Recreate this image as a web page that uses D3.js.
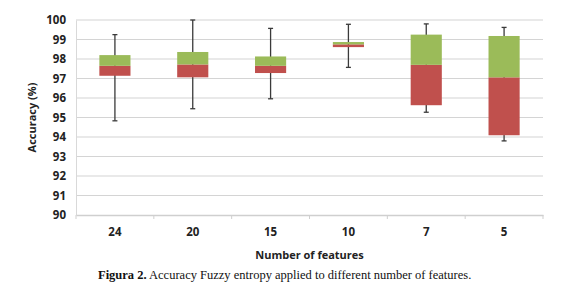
<!DOCTYPE html>
<html>
<head>
<meta charset="utf-8">
<script src="https://cdn.jsdelivr.net/npm/d3@7"></script>
<style>
  body { margin: 0; background: #fff; }
  svg text { font-family: "Open Sans", "Noto Sans", sans-serif; }
</style>
</head>
<body>
<svg id="chart" width="580" height="296"></svg>
<script>
// number of features (categories)
const features = ['24', '20', '15', '10', '7', '5']
// box plot values
const whiskerLow = [94.83, 95.45, 95.96, 97.57, 95.27, 93.80]
const q1 = [97.14, 97.06, 97.28, 98.61, 95.63, 94.09]
const median = [97.65, 97.72, 97.65, 98.75, 97.70, 97.06]
const q3 = [98.20, 98.36, 98.13, 98.87, 99.25, 99.18]
const whiskerHigh = [99.25, 100, 99.57, 99.78, 99.80, 99.62]
const yTicks = [90, 91, 92, 93, 94, 95, 96, 97, 98, 99, 100]

const margin = { left: 76, right: 37, top: 20, bottom: 81 }
const width = 580 - margin.left - margin.right
const height = 296 - margin.top - margin.bottom

const svg = d3.select('#chart')
const g = svg.append('g')
    .attr('transform', 'translate(' + margin.left + ',' + margin.top + ')')

const x = d3.scaleBand()
    .domain(features)
    .range([0, width])

const y = d3.scaleLinear()
    .domain([90, 100])
    .range([height, 0])

// gridlines
g.append('g')
    .selectAll('line')
    .data(yTicks.slice(1))
    .enter().append('line')
    .attr('x1', 0)
    .attr('x2', width)
    .attr('y1', d => y(d))
    .attr('y2', d => y(d))
    .attr('stroke', '#d4d4d4')
    .attr('stroke-width', 1.2)

// y axis
const yAxis = g.append('g')
    .call(d3.axisLeft(y).tickValues(yTicks).tickSize(0).tickPadding(10))
yAxis.select('.domain').attr('stroke', '#d9d9d9')
yAxis.selectAll('text')
    .attr('font-size', 11.5)
    .attr('font-weight', 'bold')
    .attr('fill', '#222')

// x axis
const xAxis = g.append('g')
    .attr('transform', 'translate(0,' + height + ')')
    .call(d3.axisBottom(x).tickSize(0).tickPadding(13))
xAxis.select('.domain').attr('stroke', '#cfcfcf').attr('stroke-width', 1.5)
xAxis.selectAll('text')
    .attr('font-size', 11.5)
    .attr('font-weight', 'bold')
    .attr('fill', '#222')

// tick marks between categories
const bounds = features.map(f => x(f)).concat([width])
xAxis.append('g')
    .selectAll('line')
    .data(bounds)
    .enter().append('line')
    .attr('x1', d => d)
    .attr('x2', d => d)
    .attr('y1', 0)
    .attr('y2', 4)
    .attr('stroke', '#cfcfcf')

const boxW = x.bandwidth() * 0.4
const cx = i => x(features[i]) + x.bandwidth() / 2
const idx = d3.range(features.length)

// whiskers
const wh = g.append('g')
wh.selectAll('.whisker')
    .data(idx)
    .enter().append('line')
    .attr('x1', cx).attr('x2', cx)
    .attr('y1', i => y(whiskerLow[i]))
    .attr('y2', i => y(whiskerHigh[i]))
    .attr('stroke', '#3a3a3a')
    .attr('stroke-width', 1.3)
wh.selectAll('.capTop')
    .data(idx)
    .enter().append('line')
    .attr('x1', i => cx(i) - 2.5).attr('x2', i => cx(i) + 2.5)
    .attr('y1', i => y(whiskerHigh[i]))
    .attr('y2', i => y(whiskerHigh[i]))
    .attr('stroke', '#3a3a3a')
    .attr('stroke-width', 1.3)
wh.selectAll('.capBottom')
    .data(idx)
    .enter().append('line')
    .attr('x1', i => cx(i) - 2.5).attr('x2', i => cx(i) + 2.5)
    .attr('y1', i => y(whiskerLow[i]))
    .attr('y2', i => y(whiskerLow[i]))
    .attr('stroke', '#3a3a3a')
    .attr('stroke-width', 1.3)

// lower box (q1 - median)
g.append('g')
    .selectAll('rect')
    .data(idx)
    .enter().append('rect')
    .attr('x', i => cx(i) - boxW / 2)
    .attr('width', boxW)
    .attr('y', i => y(median[i]))
    .attr('height', i => y(q1[i]) - y(median[i]))
    .attr('fill', '#c0504d')

// upper box (median - q3)
g.append('g')
    .selectAll('rect')
    .data(idx)
    .enter().append('rect')
    .attr('x', i => cx(i) - boxW / 2)
    .attr('width', boxW)
    .attr('y', i => y(q3[i]))
    .attr('height', i => y(median[i]) - y(q3[i]))
    .attr('fill', '#9bbb59')

// axis titles
svg.append('text')
    .attr('transform', 'translate(36,' + (margin.top + height / 2) + ') rotate(-90)')
    .attr('text-anchor', 'middle')
    .attr('font-size', 11)
    .attr('font-weight', 'bold')
    .attr('fill', '#222')
    .text('Accuracy (%)')

svg.append('text')
    .attr('x', margin.left + width / 2)
    .attr('y', 259)
    .attr('text-anchor', 'middle')
    .attr('font-size', 11)
    .attr('font-weight', 'bold')
    .attr('fill', '#222')
    .text('Number of  features')

const cap = svg.append('text')
    .attr('x', 98)
    .attr('y', 279)
    .style('font-family', '"Liberation Serif", "Times New Roman", serif')
    .attr('font-size', 12.5)
    .attr('fill', '#111')
cap.append('tspan').attr('font-weight', 'bold').text('Figura 2.')
cap.append('tspan').text(' Accuracy Fuzzy entropy applied to different number of features.')
</script>
</body>
</html>
